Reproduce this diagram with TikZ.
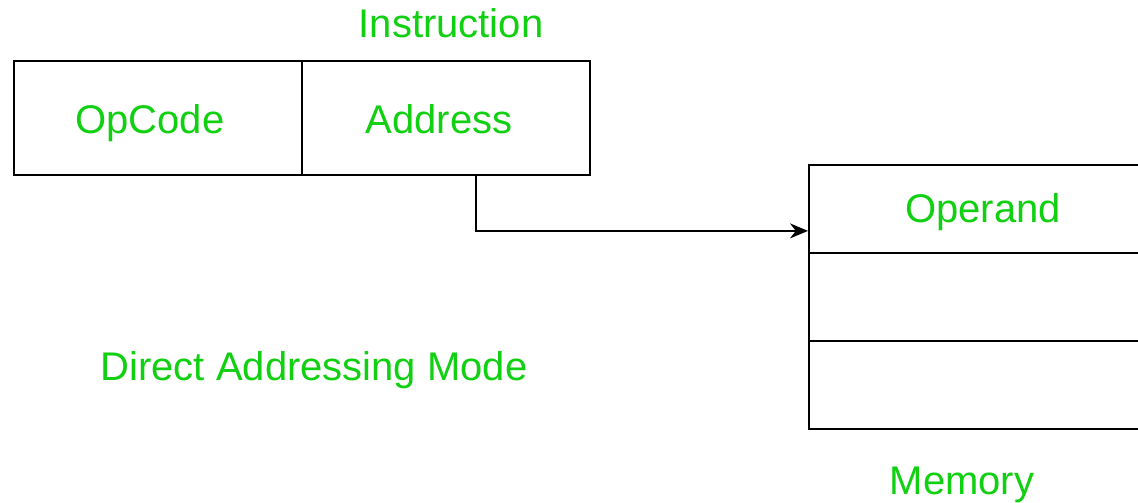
\documentclass[tikz,border=0pt]{standalone}
\usepackage{fontspec}
\setmainfont{Liberation Sans}
\usetikzlibrary{arrows.meta,positioning}
\definecolor{lblgreen}{HTML}{11D011}
\begin{document}
\begin{tikzpicture}[x=1pt,y=-1pt,
  lbl/.style={text=lblgreen,font=\fontsize{40}{46}\selectfont,inner sep=0pt,anchor=base},
  cell/.style={draw=black,line width=1.8pt,rectangle,inner sep=0pt,anchor=north west},
  conn/.style={draw=black,line width=1.8pt,-{Stealth[length=18pt,width=15pt]}}]
\useasboundingbox (0,0) rectangle (1138,503);
\clip (0,0) rectangle (1138,503);
\fill[white] (0,0) rectangle (1138,503);
% instruction
\node[cell,minimum width=288pt,minimum height=114pt] (opcode) at (13,60) {};
\node[cell,minimum width=288pt,minimum height=114pt] (address) at (301,60) {};
\node[lbl] at (150,133) {OpCode};
\node[lbl] at (439,133) {Address};
\node[lbl] (instr) at (451,38) {Instruction};
% memory
\node[cell,minimum width=350pt,minimum height=88pt] (operand) at (808,164) {};
\node[cell,minimum width=350pt,minimum height=88pt] (m2) at (808,252) {};
\node[cell,minimum width=350pt,minimum height=88pt] (m3) at (808,340) {};
\node[lbl] at (983,222) {Operand};
\node[lbl] (mem) at (962,494) {Memory};
\node[lbl] (mode) at (314,380) {Direct Addressing Mode};
% connector
\draw[conn] ([xshift=30pt]address.south) |- ([yshift=-22pt]operand.west);
\end{tikzpicture}
\end{document}
